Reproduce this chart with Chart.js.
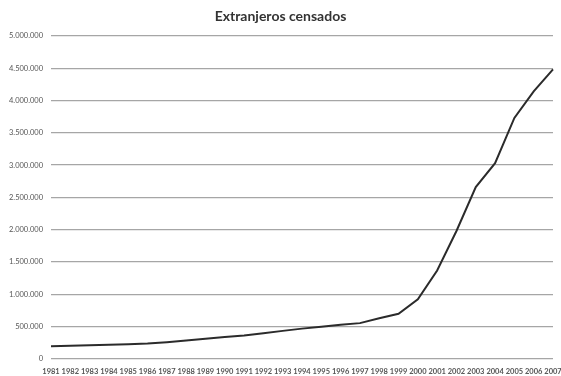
<!DOCTYPE html>
<html>
<head>
<meta charset="utf-8">
<script src="https://cdn.jsdelivr.net/npm/chart.js@4"></script>
<style>
  html, body { margin: 0; padding: 0; background: #fff; }
  #wrap { width: 561px; height: 376px; }
</style>
</head>
<body>
<div id="wrap"><canvas id="chartCanvas"></canvas></div>
<script>
const years = ["1981", "1982", "1983", "1984", "1985", "1986", "1987", "1988", "1989",
    "1990", "1991", "1992", "1993", "1994", "1995", "1996", "1997", "1998", "1999",
    "2000", "2001", "2002", "2003", "2004", "2005", "2006", "2007"];

const extranjeros = [198000, 205000, 212000, 220000, 228000, 240000, 260000, 285000, 315000,
    340000, 365000, 400000, 435000, 470000, 500000, 530000, 555000, 630000, 700000,
    925000, 1370000, 1980000, 2660000, 3030000, 3730000, 4140000, 4480000];

const yMax = 5000000;
const yStep = 500000;

// 5.000.000 style: dots as thousands separator
function formatMiles(v) {
    return String(v).replace(/\B(?=(\d{3})+(?!\d))/g, ".");
}

const chartCanvas = document.getElementById("chartCanvas");

new Chart(chartCanvas, {
    type: "line",
    data: {
        labels: years,
        datasets: [{
            label: "Extranjeros censados",
            data: extranjeros,
            borderColor: "#2b2b2b",
            borderWidth: 2,
            pointRadius: 0,
            tension: 0,
            fill: false
        }]
    },
    options: {
        responsive: true,
        maintainAspectRatio: false,
        animation: false,
        layout: { padding: { left: 0, right: 0, top: 0, bottom: 0 } },
        plugins: {
            legend: { display: false },
            tooltip: { enabled: false },
            title: {
                display: true,
                text: "Extranjeros censados",
                color: "#333",
                font: { family: "Lato", size: 14, weight: "bold" },
                padding: { top: 8, bottom: 11 }
            }
        },
        scales: {
            x: {
                offset: false,
                afterFit: function (scale) {
                    scale.height = 17;
                    scale.paddingLeft = 0;
                    scale.paddingRight = 8;
                },
                grid: { display: false, drawTicks: false },
                border: { display: false },
                ticks: {
                    autoSkip: false,
                    maxRotation: 0,
                    minRotation: 0,
                    padding: 8,
                    color: "#555",
                    font: { family: "Lato", size: 7.5, weight: "bold" }
                }
            },
            y: {
                min: 0,
                max: yMax,
                afterFit: function (scale) { scale.width = 51; },
                grid: { color: "#a6a6a6", lineWidth: 1.2, drawTicks: false },
                border: { display: false },
                ticks: {
                    stepSize: yStep,
                    padding: 8,
                    color: "#555",
                    font: { family: "Lato", size: 7.5 },
                    callback: function (v) { return formatMiles(v); }
                }
            }
        }
    }
});
</script>
</body>
</html>
